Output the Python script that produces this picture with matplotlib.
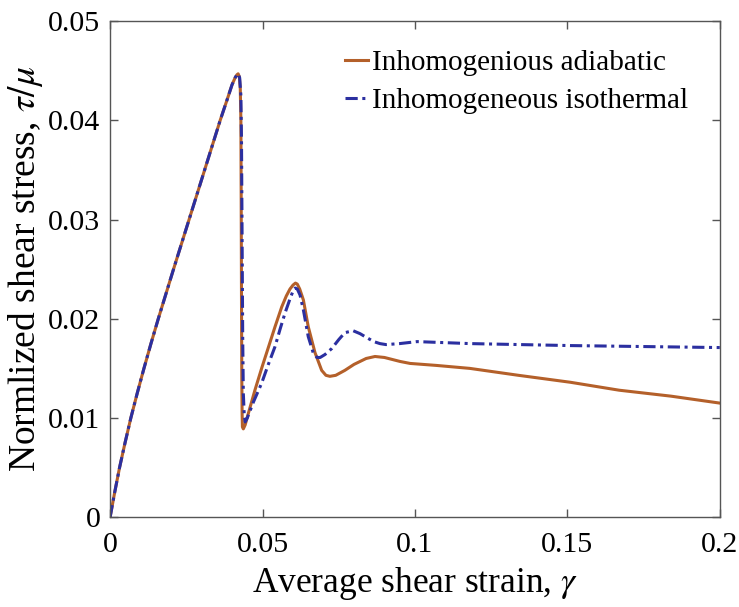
import matplotlib.pyplot as plt

plt.rcParams['font.family'] = ['Liberation Serif', 'DejaVu Serif']
plt.rcParams['mathtext.fontset'] = 'stix'

# curva adiabática no homogénea
adiab_x = [0, 0.0015, 0.0031, 0.0049, 0.0068, 0.0089, 0.0111, 0.0134, 0.0158, 0.0208,
           0.0259, 0.0310, 0.0361, 0.0385,
           0.0400, 0.0410, 0.0416, 0.0420, 0.0424, 0.0427, 0.0429, 0.0430, 0.0431, 0.0432,
           0.0433, 0.0434, 0.0437, 0.0443, 0.0452, 0.0475, 0.0497, 0.0519, 0.0541, 0.0563,
           0.0578, 0.0590, 0.0600, 0.0608, 0.0614, 0.0622, 0.0634, 0.0650, 0.0672, 0.0694,
           0.0708, 0.0721, 0.0740, 0.0770, 0.0800, 0.0840, 0.0869, 0.0900, 0.0951, 0.0984,
           0.1070, 0.1180, 0.1340, 0.1510, 0.1670, 0.1840, 0.2000]
adiab_y = [0, 0.0025, 0.0050, 0.0075, 0.0100, 0.0125, 0.0150, 0.0175, 0.0200, 0.0250,
           0.0300, 0.0350, 0.0400, 0.0422,
           0.0436, 0.0443, 0.0446, 0.0447, 0.0444, 0.0432, 0.0400, 0.0320, 0.0220, 0.0140,
           0.0105, 0.0091, 0.0089, 0.0093, 0.0103, 0.0128, 0.0150, 0.0171, 0.0192, 0.0212,
           0.0223, 0.0230, 0.0234, 0.0236, 0.0235, 0.0230, 0.0219, 0.0192, 0.0166, 0.0148,
           0.0143, 0.0142, 0.0143, 0.0148, 0.0154, 0.0160, 0.0162, 0.0161, 0.0157, 0.0155,
           0.0153, 0.0150, 0.0143, 0.0136, 0.0128, 0.0122, 0.0115]

# curva isotérmica no homogénea
iso_x = [0, 0.0015, 0.0031, 0.0049, 0.0068, 0.0089, 0.0111, 0.0134, 0.0158, 0.0208,
         0.0259, 0.0310, 0.0361, 0.0385,
         0.0400, 0.0410, 0.0416, 0.0420, 0.0425, 0.0429, 0.0431, 0.0433, 0.0435, 0.0437,
         0.0440, 0.0443, 0.0450, 0.0470, 0.0497, 0.0519, 0.0541, 0.0558, 0.0574, 0.0590,
         0.0600, 0.0607, 0.0614, 0.0623, 0.0634, 0.0650, 0.0667, 0.0679, 0.0689, 0.0705,
         0.0727, 0.0750, 0.0770, 0.0797, 0.0820, 0.0842, 0.0865, 0.0885, 0.0905, 0.0950,
         0.1007, 0.1180, 0.1510, 0.2000]
iso_y = [0, 0.0025, 0.0050, 0.0075, 0.0100, 0.0125, 0.0150, 0.0175, 0.0200, 0.0250,
         0.0300, 0.0350, 0.0400, 0.0422,
         0.0436, 0.0443, 0.0446, 0.0447, 0.0443, 0.0425, 0.0380, 0.0280, 0.0180, 0.0125,
         0.0103, 0.0096, 0.0100, 0.0116, 0.0135, 0.0154, 0.0172, 0.0190, 0.0206, 0.0220,
         0.0228, 0.0231, 0.0230, 0.0224, 0.0209, 0.0182, 0.0165, 0.0161, 0.0161, 0.0164,
         0.0170, 0.0179, 0.0186, 0.0188, 0.0185, 0.0181, 0.0177, 0.0175, 0.0174, 0.0175,
         0.0177, 0.0175, 0.0173, 0.0171]

xticks = [0, 0.05, 0.1, 0.15, 0.2]
xtick_labels = ['0', '0.05', '0.1', '0.15', '0.2']
yticks = [0, 0.01, 0.02, 0.03, 0.04, 0.05]
ytick_labels = ['0', '0.01', '0.02', '0.03', '0.04', '0.05']

fig = plt.figure(figsize=(7.39, 6.07), dpi=100)
ax = fig.add_axes([0.149, 0.148, 0.825, 0.817])

ax.plot(adiab_x, adiab_y, color='#B4602A', lw=2.2, label='Inhomogenious adiabatic')
ax.plot(iso_x, iso_y, color='#2B2FA0', lw=2.2, ls=(0, (4, 1.5, 1, 1.5)),
        label='Inhomogeneous isothermal')

ax.set_xlim(0, 0.2)
ax.set_ylim(0, 0.05)
ax.set_xticks(xticks)
ax.set_xticklabels(xtick_labels)
ax.set_yticks(yticks)
ax.set_yticklabels(ytick_labels)
ax.tick_params(direction='in', top=True, right=True, length=6, width=1,
               color='#555555', labelsize=21.5)
ax.tick_params(axis='x', pad=11)
ax.tick_params(axis='y', pad=7)
for s in ax.spines.values():
    s.set_color('#555555')
    s.set_linewidth(1)

ax.set_xlabel(r'Average shear strain, $\gamma$', fontsize=25.5, labelpad=5)
ax.set_ylabel(r'Normlized shear stress, $\tau/\mu$', fontsize=27, labelpad=2)

ax.legend(loc='upper left', bbox_to_anchor=(0.375, 0.955), frameon=False,
          fontsize=21, handlelength=0.8, handletextpad=0.15,
          borderaxespad=0, borderpad=0.2, labelspacing=0.4)

plt.savefig('out.png', dpi=100)
